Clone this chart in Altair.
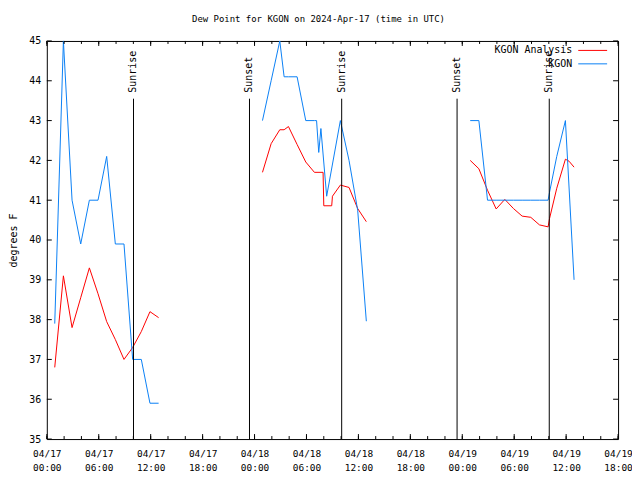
import altair as alt
import pandas as pd

# ---------------- data (UTC) ----------------
kgon_times = [
    "2024-04-17 00:55", "2024-04-17 01:55", "2024-04-17 02:55", "2024-04-17 03:55",
    "2024-04-17 04:55", "2024-04-17 05:55", "2024-04-17 06:55", "2024-04-17 07:55",
    "2024-04-17 08:55", "2024-04-17 09:55", "2024-04-17 10:55", "2024-04-17 11:55",
    "2024-04-17 12:55",
    "2024-04-18 00:55", "2024-04-18 01:55", "2024-04-18 02:55", "2024-04-18 03:25",
    "2024-04-18 03:55", "2024-04-18 04:55", "2024-04-18 05:55", "2024-04-18 06:55",
    "2024-04-18 07:10", "2024-04-18 07:25", "2024-04-18 07:40", "2024-04-18 08:20",
    "2024-04-18 09:55", "2024-04-18 10:55", "2024-04-18 11:55", "2024-04-18 12:55",
    "2024-04-19 00:55", "2024-04-19 01:55", "2024-04-19 02:55", "2024-04-19 03:55",
    "2024-04-19 04:55", "2024-04-19 05:55", "2024-04-19 06:55", "2024-04-19 07:55",
    "2024-04-19 08:55", "2024-04-19 09:55", "2024-04-19 10:05", "2024-04-19 10:55",
    "2024-04-19 11:55", "2024-04-19 12:55",
]
kgon_vals = [
    37.9, 45.0, 41.0, 39.9, 41.0, 41.0, 42.1, 39.9, 39.9, 37.0, 37.0, 35.9, 35.9,
    43.0, 44.0, 45.0, 44.1, 44.1, 44.1, 43.0, 43.0, 43.0, 42.2, 42.8, 41.1, 43.0,
    42.0, 40.75, 37.96,
    43.0, 43.0, 41.0, 41.0, 41.0, 41.0, 41.0, 41.0, 41.0, 41.0, 41.2, 42.1, 43.0, 39.0,
]

ana_times = [
    "2024-04-17 00:55", "2024-04-17 01:55", "2024-04-17 02:55", "2024-04-17 03:55",
    "2024-04-17 04:55", "2024-04-17 05:55", "2024-04-17 06:55", "2024-04-17 07:55",
    "2024-04-17 08:55", "2024-04-17 09:55", "2024-04-17 10:55", "2024-04-17 11:55",
    "2024-04-17 12:55",
    "2024-04-18 00:55", "2024-04-18 01:55", "2024-04-18 02:55", "2024-04-18 03:25",
    "2024-04-18 03:55", "2024-04-18 04:55", "2024-04-18 05:55", "2024-04-18 06:55",
    "2024-04-18 07:55", "2024-04-18 08:00", "2024-04-18 08:55", "2024-04-18 09:00",
    "2024-04-18 09:55", "2024-04-18 10:55", "2024-04-18 11:55", "2024-04-18 12:55",
    "2024-04-19 00:55", "2024-04-19 01:55", "2024-04-19 02:55", "2024-04-19 03:55",
    "2024-04-19 04:55", "2024-04-19 05:55", "2024-04-19 06:55", "2024-04-19 07:55",
    "2024-04-19 08:55", "2024-04-19 09:55", "2024-04-19 10:05", "2024-04-19 10:55",
    "2024-04-19 11:55", "2024-04-19 12:20", "2024-04-19 12:55",
]
ana_vals = [
    36.8, 39.1, 37.8, 38.55, 39.3, 38.65, 37.95, 37.5, 37.0, 37.3, 37.7, 38.2, 38.05,
    41.7, 42.42, 42.77, 42.77, 42.85, 42.4, 41.96, 41.7, 41.7, 40.86, 40.86, 41.1,
    41.38, 41.32, 40.79, 40.46,
    42.0, 41.79, 41.25, 40.78, 41.02, 40.79, 40.6, 40.57, 40.38, 40.33, 40.54, 41.3,
    42.03, 41.98, 41.83,
]

sun_times = ["2024-04-17 10:01", "2024-04-17 23:25", "2024-04-18 10:04",
             "2024-04-18 23:24", "2024-04-19 10:03"]
sun_labels = ["Sunrise", "Sunset", "Sunrise", "Sunset", "Sunrise"]

y_ticks = [35, 36, 37, 38, 39, 40, 41, 42, 43, 44, 45]
series_names = ["KGON Analysis", "KGON"]
series_colors = ["#ff0000", "#0a80f5"]

FONT = "DejaVu Sans Mono"
W, H = 574, 400


def ms(s):
    return int(pd.Timestamp(s, tz="UTC").value // 10**6)


x_start = ms("2024-04-17 00:00")
x_end = ms("2024-04-19 18:00")
major_ms = [ms(t) for t in pd.date_range("2024-04-17 00:00", "2024-04-19 18:00", freq="6h")]
minor_ms = [ms(t) for t in pd.date_range("2024-04-17 00:00", "2024-04-19 18:00", freq="2h")]


def series_df(times, vals):
    return pd.DataFrame({
        "t": [ms(t) for t in times],
        "v": vals,
        "seg": [t[:10] for t in times],
    })


df_kgon = series_df(kgon_times, kgon_vals)
df_ana = series_df(ana_times, ana_vals)
df_sun = pd.DataFrame({"t": [ms(t) for t in sun_times], "label": sun_labels})
df_xmaj = pd.DataFrame({"t": major_ms})
df_xmin = pd.DataFrame({"t": minor_ms})
df_y = pd.DataFrame({"v": y_ticks})

xscale = alt.Scale(type="utc", domain=[x_start, x_end], nice=False)
yscale = alt.Scale(domain=[35, 45], nice=False, zero=False)

x_axis = alt.Axis(
    values=major_ms,
    labelExpr="[utcFormat(datum.value, '%m/%d'), utcFormat(datum.value, '%H:%M')]",
    ticks=False, tickSize=0, domain=False, grid=False,
    labelFont=FONT, labelFontSize=9.5, labelColor="black",
    labelPadding=10, labelLineHeight=14, labelFlush=False,
    labelOverlap=False, labelBound=False, title=None,
)
y_axis = alt.Axis(
    values=y_ticks, ticks=False, tickSize=0, domain=False, grid=False,
    labelFont=FONT, labelFontSize=10, labelColor="black", labelPadding=6,
    labelFlush=False, labelOverlap=False, labelBound=False,
    title="degrees F", titleFont=FONT, titleFontSize=10, titleFontWeight="normal",
    titleColor="black", titlePadding=10,
)

X = alt.X("t:T", scale=xscale, axis=x_axis)
Y = alt.Y("v:Q", scale=yscale, axis=y_axis)

line_ana = alt.Chart(df_ana).mark_line(color=series_colors[0], strokeWidth=1).encode(
    x=X, y=Y, detail="seg:N", order="t:Q")
line_kgon = alt.Chart(df_kgon).mark_line(color=series_colors[1], strokeWidth=1).encode(
    x=X, y=Y, detail="seg:N", order="t:Q")

sun_rule = alt.Chart(df_sun).mark_rule(color="black", strokeWidth=1).encode(
    x=X, y=alt.value(58), y2=alt.value(H))
sun_text = alt.Chart(df_sun).mark_text(
    angle=270, align="left", baseline="middle", font=FONT, fontSize=10, color="black"
).encode(x=X, y=alt.value(52), text="label:N")

# inward ticks on all four sides
xt_bot_maj = alt.Chart(df_xmaj).mark_rule(color="black").encode(
    x=X, y=alt.value(H), y2=alt.value(H - 5))
xt_top_maj = alt.Chart(df_xmaj).mark_rule(color="black").encode(
    x=X, y=alt.value(0), y2=alt.value(5))
xt_bot_min = alt.Chart(df_xmin).mark_rule(color="black").encode(
    x=X, y=alt.value(H), y2=alt.value(H - 3))
xt_top_min = alt.Chart(df_xmin).mark_rule(color="black").encode(
    x=X, y=alt.value(0), y2=alt.value(3))
yt_left = alt.Chart(df_y).mark_rule(color="black").encode(
    y=Y, x=alt.value(0), x2=alt.value(5))
yt_right = alt.Chart(df_y).mark_rule(color="black").encode(
    y=Y, x=alt.value(W - 5), x2=alt.value(W))

# key, top right inside the plot (label left of sample line, as in gnuplot)
legend_layers = []
for i, (name, col) in enumerate(zip(series_names, series_colors)):
    d = pd.DataFrame({"name": [name]})
    yy = 9.5 + i * 13.5
    legend_layers.append(
        alt.Chart(d).mark_text(align="right", baseline="middle", font=FONT,
                               fontSize=10, color="black")
        .encode(x=alt.value(528), y=alt.value(yy), text="name:N"))
    legend_layers.append(
        alt.Chart(d).mark_rule(color=col, strokeWidth=1)
        .encode(x=alt.value(534), x2=alt.value(563), y=alt.value(yy)))

chart = alt.layer(
    line_ana, line_kgon, sun_rule, sun_text,
    xt_bot_maj, xt_top_maj, xt_bot_min, xt_top_min, yt_left, yt_right,
    *legend_layers,
).properties(
    width=W, height=H,
    title=alt.TitleParams(
        "Dew Point for KGON on 2024-Apr-17 (time in UTC)",
        font=FONT, fontSize=9, fontWeight="normal", color="black",
        anchor="middle", dx=-14, offset=12,
    ),
    autosize=alt.AutoSizeParams(type="none"),
    padding={"left": 39, "top": 32, "right": 14, "bottom": 36},
    background="white",
).configure_view(stroke="black", strokeWidth=1)

chart.save("out.html", embed_options={"renderer": "svg", "actions": False})
